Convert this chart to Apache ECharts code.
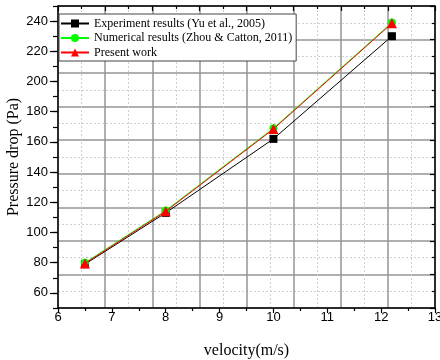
<!DOCTYPE html>
<html>
<head>
<meta charset="utf-8">
<script src="https://cdn.jsdelivr.net/npm/echarts@6/dist/echarts.min.js"></script>
<style>
html,body{margin:0;padding:0;background:#fff;}
#chart{width:440px;height:360px;}
</style>
</head>
<body>
<div id="chart"></div>
<script>
const velocity = [6.5, 8, 10, 12.2];
const experiment = [79, 113, 162, 230];
const numerical = [80, 114.5, 169, 239];
const present = [79.5, 114, 168.5, 238.5];
const yTickValues = [60, 80, 100, 120, 140, 160, 180, 200, 220, 240];
const seriesNames = ['Experiment results (Yu et al., 2005)', 'Numerical results (Zhou & Catton, 2011)', 'Present work'];

const pairs = v => velocity.map((x, i) => [x, v[i]]);
const chart = echarts.init(document.getElementById('chart'), null, {renderer: 'canvas'});
const serif = 'Liberation Serif';
const sans = 'Liberation Sans';
const gridMajor = {show: true, lineStyle: {color: '#959595', width: 1.5}};
const gridMinor = {show: true, lineStyle: {color: '#cfcfcf', width: 1, type: [2, 2]}};

chart.setOption({
  animation: false,
  backgroundColor: '#fff',
  grid: {left: 58, right: 5, top: 6, bottom: 52, containLabel: false, outerBoundsMode: 'none'},
  legend: {
    orient: 'vertical', left: 59, top: 14,
    itemWidth: 28, itemHeight: 10, itemGap: 1.5,
    padding: [3, 4, 2, 1],
    backgroundColor: '#fff', borderColor: '#444', borderWidth: 1,
    textStyle: {fontFamily: serif, fontSize: 12, lineHeight: 13, color: '#000'},
    data: seriesNames
  },
  xAxis: [
    {
      type: 'value', position: 'bottom', min: 6, max: 13, interval: 1,
      name: 'velocity(m/s)', nameLocation: 'middle', nameGap: 35, nameMoveOverlap: false,
      nameTextStyle: {fontFamily: serif, fontSize: 16, color: '#000'},
      axisLine: {show: true, onZero: false, lineStyle: {color: '#000', width: 1.5}},
      axisTick: {show: true, inside: false, length: 5, lineStyle: {color: '#000', width: 1.2}},
      minorTick: {show: true, splitNumber: 2, length: 3, lineStyle: {color: '#000', width: 1.2}},
      axisLabel: {fontFamily: sans, fontSize: 13, color: '#000', margin: 3},
      splitLine: {show: false}
    },
    {
      type: 'value', position: 'top', min: 0, max: 8, interval: 1,
      axisLine: {show: true, onZero: false, lineStyle: {color: '#000', width: 1.5}},
      axisTick: {show: true, inside: true, length: 5, lineStyle: {color: '#000', width: 1.2}},
      minorTick: {show: true, splitNumber: 2, length: 3, lineStyle: {color: '#000', width: 1.2}},
      axisLabel: {show: false},
      splitLine: gridMajor,
      minorSplitLine: gridMinor
    }
  ],
  yAxis: [
    {
      type: 'value', position: 'left', min: 50, max: 250,
      name: 'Pressure drop (Pa)', nameLocation: 'middle', nameGap: 36, nameMoveOverlap: false,
      nameTextStyle: {fontFamily: serif, fontSize: 16, color: '#000'},
      axisLine: {show: true, onZero: false, lineStyle: {color: '#000', width: 1.5}},
      axisTick: {show: true, inside: false, length: 8, customValues: yTickValues, lineStyle: {color: '#000', width: 1.2}},
      axisLabel: {fontFamily: sans, fontSize: 13, color: '#000', margin: 10, customValues: yTickValues},
      splitLine: {show: false}
    },
    {
      type: 'value', position: 'left', min: 50, max: 250, interval: 10,
      axisLine: {show: false},
      axisTick: {show: true, inside: false, length: 5, lineStyle: {color: '#000', width: 1.2}},
      axisLabel: {show: false},
      splitLine: {show: false}
    },
    {
      type: 'value', position: 'right', min: 0, max: 9, interval: 1,
      axisLine: {show: true, onZero: false, lineStyle: {color: '#000', width: 1.5}},
      axisTick: {show: true, inside: true, length: 5, lineStyle: {color: '#000', width: 1.2}},
      minorTick: {show: true, splitNumber: 2, length: 3, lineStyle: {color: '#000', width: 1.2}},
      axisLabel: {show: false},
      splitLine: gridMajor,
      minorSplitLine: gridMinor
    }
  ],
  series: [
    {
      name: seriesNames[0], type: 'line', xAxisIndex: 0, yAxisIndex: 0,
      data: pairs(experiment), symbol: 'rect', symbolSize: 8,
      itemStyle: {color: '#000'}, lineStyle: {color: '#000', width: 1}, z: 3
    },
    {
      name: seriesNames[1], type: 'line', xAxisIndex: 0, yAxisIndex: 0,
      data: pairs(numerical), symbol: 'circle', symbolSize: 8,
      itemStyle: {color: '#00ff00'}, lineStyle: {color: '#00ff00', width: 1}, z: 4
    },
    {
      name: seriesNames[2], type: 'line', xAxisIndex: 0, yAxisIndex: 0,
      data: pairs(present), symbol: 'triangle', symbolSize: 10,
      itemStyle: {color: '#ff0000'}, lineStyle: {color: '#ff0000', width: 1}, z: 5
    }
  ]
});
</script>
</body>
</html>
